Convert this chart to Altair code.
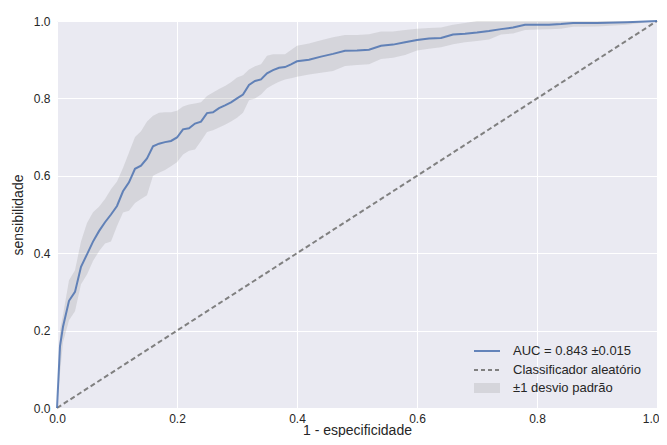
import altair as alt
import pandas as pd

fpr = [0, 0.005, 0.01, 0.02, 0.03, 0.04, 0.05, 0.06, 0.07, 0.08, 0.09, 0.10, 0.11, 0.12, 0.13, 0.14,
       0.15, 0.16, 0.17, 0.18, 0.19, 0.20, 0.21, 0.22, 0.23, 0.24, 0.25, 0.26, 0.27, 0.28, 0.29, 0.30,
       0.31, 0.32, 0.33, 0.34, 0.35, 0.36, 0.37, 0.38, 0.39, 0.40, 0.42, 0.44, 0.46, 0.48, 0.50, 0.52,
       0.54, 0.56, 0.58, 0.60, 0.62, 0.64, 0.66, 0.68, 0.70, 0.72, 0.74, 0.76, 0.78, 0.80, 0.82, 0.84,
       0.86, 0.90, 0.95, 1.0]
tpr_mean = [0.0, 0.16, 0.21, 0.277, 0.30, 0.365, 0.397, 0.43, 0.457, 0.48, 0.50, 0.522, 0.56, 0.583,
            0.618, 0.626, 0.645, 0.676, 0.683, 0.687, 0.69, 0.699, 0.72, 0.723, 0.735, 0.740, 0.762,
            0.764, 0.775, 0.782, 0.79, 0.80, 0.81, 0.835, 0.845, 0.849, 0.865, 0.873, 0.879, 0.881,
            0.888, 0.896, 0.900, 0.908, 0.915, 0.923, 0.924, 0.926, 0.936, 0.939, 0.945, 0.951, 0.955,
            0.956, 0.965, 0.967, 0.970, 0.974, 0.979, 0.983, 0.99, 0.99, 0.99, 0.992, 0.995, 0.995,
            0.997, 1.0]
tpr_upper = [0.0, 0.20, 0.24, 0.33, 0.356, 0.43, 0.478, 0.506, 0.52, 0.54, 0.565, 0.585, 0.62, 0.66,
             0.70, 0.715, 0.74, 0.755, 0.763, 0.764, 0.764, 0.768, 0.779, 0.784, 0.787, 0.79, 0.806,
             0.815, 0.824, 0.832, 0.842, 0.854, 0.86, 0.875, 0.883, 0.888, 0.91, 0.914, 0.914, 0.914,
             0.925, 0.936, 0.942, 0.95, 0.958, 0.964, 0.964, 0.966, 0.973, 0.973, 0.977, 0.98, 0.982,
             0.983, 0.99, 0.995, 1.0, 1.0, 1.0, 1.0, 1.0, 1.0, 1.0, 1.0, 1.0, 1.0, 1.0, 1.0]
tpr_lower = [0.0, 0.09, 0.17, 0.227, 0.25, 0.32, 0.345, 0.38, 0.405, 0.425, 0.43, 0.47, 0.505, 0.51,
             0.53, 0.54, 0.55, 0.60, 0.608, 0.615, 0.625, 0.635, 0.655, 0.665, 0.668, 0.69, 0.713,
             0.718, 0.725, 0.732, 0.74, 0.75, 0.763, 0.795, 0.80, 0.81, 0.826, 0.835, 0.843, 0.849,
             0.852, 0.856, 0.862, 0.866, 0.871, 0.884, 0.886, 0.888, 0.902, 0.905, 0.912, 0.924, 0.928,
             0.932, 0.94, 0.945, 0.948, 0.952, 0.965, 0.968, 0.977, 0.978, 0.979, 0.98, 0.985, 0.986,
             0.99, 1.0]
diag_x = [0.0, 1.0]
diag_y = [0.0, 1.0]
legend_labels = ["AUC = 0.843 \u00b10.015", "Classificador aleat\u00f3rio", "\u00b11 desvio padr\u00e3o"]

df = pd.DataFrame({"fpr": fpr, "mean": tpr_mean, "upper": tpr_upper, "lower": tpr_lower})
ddf = pd.DataFrame({"x": diag_x, "y": diag_y})

xs = alt.Scale(domain=[0, 1], nice=False)
ys = alt.Scale(domain=[0, 1], nice=False)
xax = alt.Axis(values=[0, 0.2, 0.4, 0.6, 0.8, 1.0], format=".1f", title="1 - especificidade",
               labelAlign={"expr": "datum.value == 1 ? 'right' : 'center'"},
               labelOffset={"expr": "datum.value == 1 ? 2 : 0"},
               titleBaseline="alphabetic", titleY=26)
yax = alt.Axis(values=[0, 0.2, 0.4, 0.6, 0.8, 1.0], format=".1f", title="sensibilidade")

band = alt.Chart(df).mark_area(color="grey", opacity=0.2).encode(
    x=alt.X("fpr:Q", scale=xs, axis=xax),
    y=alt.Y("upper:Q", scale=ys, axis=yax),
    y2="lower:Q",
)
diag = alt.Chart(ddf).mark_line(color="#808080", strokeWidth=2, strokeDash=[5, 3]).encode(
    x=alt.X("x:Q", scale=xs), y=alt.Y("y:Q", scale=ys)
)
line = alt.Chart(df).mark_line(color="#4C72B0", opacity=0.85, strokeWidth=2).encode(
    x=alt.X("fpr:Q", scale=xs), y=alt.Y("mean:Q", scale=ys)
)

# manual legend
leg_line = alt.Chart(pd.DataFrame({"a": [0]})).mark_rule(color="#4C72B0", opacity=0.85, strokeWidth=2).encode(
    x=alt.value(417), x2=alt.value(443), y=alt.value(330)
)
leg_dash = alt.Chart(pd.DataFrame({"a": [0]})).mark_rule(color="#808080", strokeWidth=2, strokeDash=[4, 3]).encode(
    x=alt.value(417), x2=alt.value(443), y=alt.value(349)
)
leg_rect = alt.Chart(pd.DataFrame({"a": [0]})).mark_rect(color="grey", opacity=0.2).encode(
    x=alt.value(417), x2=alt.value(443), y=alt.value(362), y2=alt.value(372)
)
leg_text = alt.Chart(pd.DataFrame({"label": legend_labels, "yy": [330, 349, 367]})).mark_text(
    align="left", baseline="middle", fontSize=13, font="Liberation Sans", color="#262626"
).encode(x=alt.value(456), y=alt.Y("yy:Q", scale=None), text="label:N")

chart = alt.layer(band, diag, line, leg_line, leg_dash, leg_rect, leg_text).properties(
    width=600, height=387,
    autosize=alt.AutoSizeParams(type="none"),
    padding={"left": 49, "top": 13, "right": 2, "bottom": 29},
).configure_view(fill="#EAEAF2", stroke=None).configure_axis(
    grid=True, gridColor="white", gridWidth=1, domain=False, ticks=False, labelFlush=False,
    labelFont="Liberation Sans", labelFontSize=12, labelColor="#262626", labelPadding=5,
    titleFont="Liberation Sans", titleFontSize=14, titleColor="#262626", titleFontWeight="normal",
).configure_axisY(titlePadding=8, labelPadding=7)

chart.save("out.html", embed_options={"renderer": "svg", "actions": False})
